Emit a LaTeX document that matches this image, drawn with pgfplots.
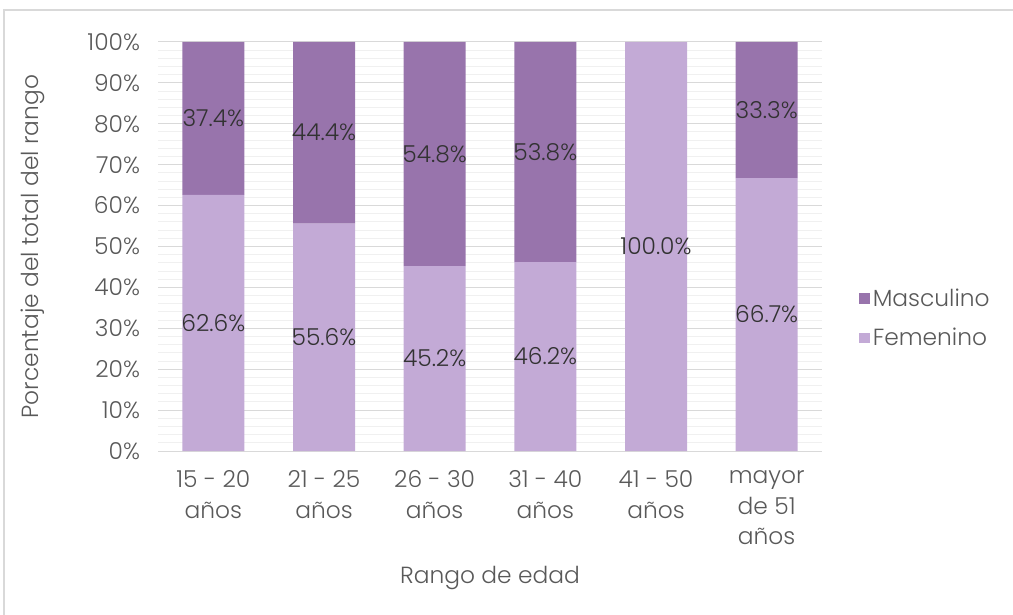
\documentclass[border=0pt]{standalone}
\usepackage{fontspec}
\setmainfont{Poppins}[UprightFont=* Light]
\usepackage{pgfplots}
\pgfplotsset{compat=1.18}
\usepackage{pgfplotstable}
\definecolor{masc}{RGB}{152,116,172}
\definecolor{fem}{RGB}{195,170,214}
\definecolor{tickgray}{RGB}{89,89,89}
\definecolor{labelgray}{RGB}{50,50,50}
\definecolor{gridmajor}{RGB}{217,217,217}
\definecolor{gridminor}{RGB}{240,240,240}

% porcentaje femenino / masculino por rango de edad
\pgfplotstableread{
x F M
0 62.6 37.4
1 55.6 44.4
2 45.2 54.8
3 46.2 53.8
4 100.0 0.0
5 66.7 33.3
}\datos

\pgfplotsset{
  base/.style={
    at={(118.5pt,122.25pt)}, anchor=south west,
    scale only axis, width=498pt, height=306.75pt,
    xmin=-0.5, xmax=5.5, ymin=0, ymax=100,
    font=\fontsize{17.5}{23}\selectfont,
    /pgf/number format/assume math mode=true,
  },
  cuadro/.style={legend image code/.code={\fill[##1] (0pt,-4pt) rectangle (8pt,4pt);}},
}

\begin{document}
\begin{tikzpicture}
\useasboundingbox (0,0) rectangle (759.75pt,460.5pt);
\draw[gridmajor, line width=1.2pt] (3pt,-2pt) -- (3pt,453pt) -- (762pt,453pt);
\begin{axis}[base,
  ybar stacked, bar width=46.5pt,
  axis line style={draw=none},
  ytick={0,10,...,100},
  yticklabel={\pgfmathprintnumber{\tick}\%},
  minor y tick num=4,
  ymajorgrids, yminorgrids,
  major grid style={gridmajor, line width=0.75pt},
  minor grid style={gridminor, line width=0.75pt},
  major tick length=0pt, minor tick length=0pt,
  xtick={0,...,5},
  xticklabels={{15 - 20\\años},{21 - 25\\años},{26 - 30\\años},{31 - 40\\años},{41 - 50\\años},{mayor\\de 51\\años}},
  xticklabel style={align=center, anchor=north, yshift=-11pt},
  yticklabel style={xshift=-10pt},
  tick label style={text=tickgray},
  label style={text=tickgray},
  xlabel={Rango de edad},
  xlabel style={at={(axis description cs:0.5,-0.31)}, anchor=center},
  ylabel={Porcentaje del total del rango},
  ylabel style={at={(axis description cs:-0.188,0.5)}, anchor=center},
  legend style={draw=none, fill=none, at={(axis description cs:1.05,0.325)}, anchor=west,
    text=tickgray, row sep=11pt, legend cell align=left},
  reverse legend,
]
\addplot[fill=fem, draw=none, cuadro] table[x=x, y=F]{\datos};
\addlegendentry{Femenino}
\addplot[fill=masc, draw=none, cuadro] table[x=x, y=M]{\datos};
\addlegendentry{Masculino}
\end{axis}
\begin{axis}[base, hide axis,
  point meta=explicit,
  nodes near coords={\pgfmathprintnumber[fixed,fixed zerofill,precision=1]{\pgfplotspointmeta}\%},
]
\addplot[draw=none, mark=none, every node near coord/.append style={anchor=center, text=labelgray}]
  table[x=x, y expr=\thisrow{F}/2, meta=F]{\datos};
\addplot[draw=none, mark=none, skip coords between index={4}{5}, every node near coord/.append style={anchor=center, text=labelgray}]
  table[x=x, y expr=\thisrow{F}+\thisrow{M}/2, meta=M]{\datos};
\end{axis}
\end{tikzpicture}
\end{document}
